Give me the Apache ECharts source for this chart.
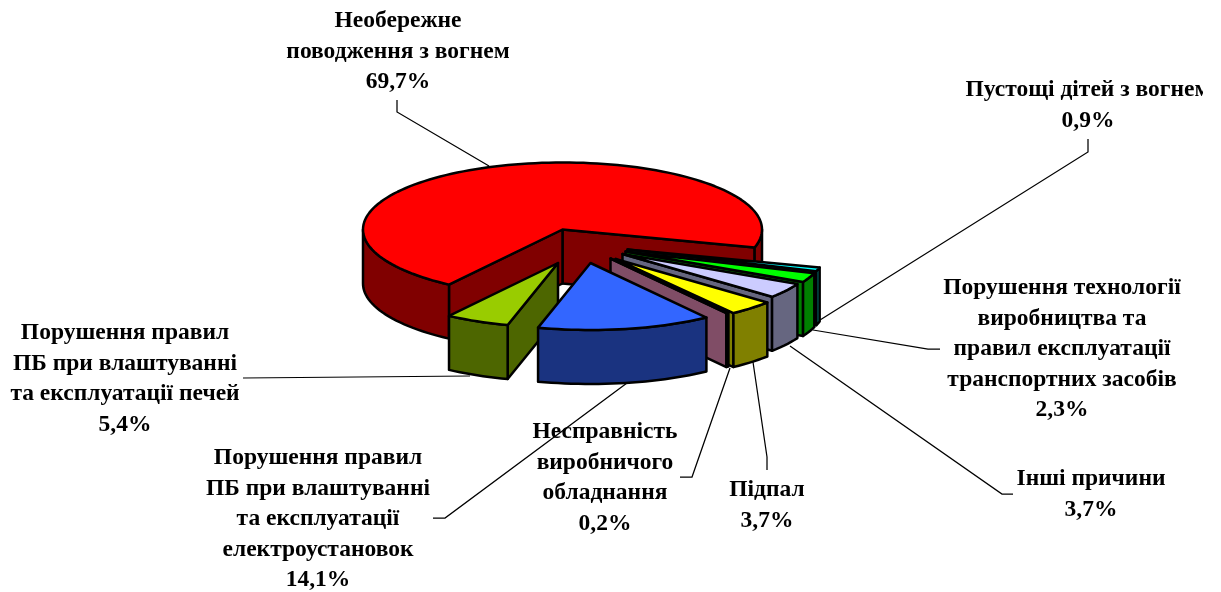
<!DOCTYPE html>
<html><head><meta charset="utf-8">
<style>html,body{margin:0;padding:0;background:#fff}#c{width:1221px;height:592px}</style>
<script src="https://cdn.jsdelivr.net/npm/echarts@6/dist/echarts.min.js"></script>
</head><body><div id="c"></div>
<script>
// ---- data, counter-clockwise from the right-hand edge of the big slice
const labels = [
  ['Необережне','поводження з вогнем'],
  ['Порушення правил','ПБ при влаштуванні','та експлуатації печей'],
  ['Порушення правил','ПБ при влаштуванні','та експлуатації','електроустановок'],
  ['Несправність','виробничого','обладнання'],
  ['Підпал'],
  ['Інші причини'],
  ['Порушення технології','виробництва та','правил експлуатації','транспортних засобів'],
  ['Пустощі дітей з вогнем']
];
const shares = [69.7, 5.4, 14.1, 0.2, 3.7, 3.7, 2.3, 0.9];

// ---- styles and layout
const topColors  = ['#ff0000','#99cc00','#3366ff','#993366','#ffff00','#ccccff','#00ff00','#00ffff'];
const wallColors = ['#800000','#4d6600','#1a3380','#804d66','#808000','#666680','#008000','#008080'];
const drawOrder = [0,7,6,5,4,3,1,2];
const centre = [562.5, 229.5], rx = 199.5, ry = 67, depth = 54, firstAngle = -15.6;
const explode = [[0,0],[-4.5,33.5],[28,33.5],[48,29],[53,29.5],[60,24.5],[63,22],[65,20]];
const radiusScale = [1,0.96,1,1,1,0.985,1,1];
const labelPos = [[398,21],[125,333],[318,458],[605,432],[767,490],[1091,479],[1062,288],[1088,90]];
const leaders = [
  [[397,100],[397,112],[489,166]],
  [[243,378],[470,376]],
  [[433,518],[445,518],[627,383]],
  [[680,477],[692,477],[730,368]],
  [[767,470],[767,457],[753,362]],
  [[1013,494],[1002,494],[790,346]],
  [[940,349],[928,349],[813,330]],
  [[1088,139],[1088,152],[820,320]]
];

const total = shares.reduce((a,b)=>a+b,0);
const starts = []; shares.reduce((acc,v,i)=>{starts[i]=acc; return acc+v/total*360;}, firstAngle);
const rad = d => d*Math.PI/180;
const percent = v => v.toFixed(1).replace('.',',') + '%';

function rim(o, deg, s){ return [o[0]+s*rx*Math.cos(rad(deg)), o[1]-s*ry*Math.sin(rad(deg))]; }
function arcPts(o, a, b, s){ const n=Math.max(2,Math.ceil(Math.abs(b-a)/2)), p=[];
  for(let i=0;i<=n;i++) p.push(rim(o,a+(b-a)*i/n,s)); return p; }
const edge = {stroke:'#000', lineWidth:2.5, lineJoin:'round'};
function poly(pts, fill){ return {type:'polygon', shape:{points:pts}, style:Object.assign({fill:fill},edge)}; }
function wall(pts, fill){ const down=pts.slice().reverse().map(p=>[p[0],p[1]+depth]); return poly(pts.concat(down), fill); }

function renderSlice(params, api){
  const i = api.value(0);
  const a = starts[i], b = a + api.value(1)/total*360, s = radiusScale[i];
  const o = [centre[0]+explode[i][0], centre[1]+explode[i][1]];
  const kids = [];
  // side walls that face the viewer
  if (Math.sin(rad(a-90))<0) kids.push(wall([o,rim(o,a,s)], wallColors[i]));
  if (Math.sin(rad(b+90))<0) kids.push(wall([o,rim(o,b,s)], wallColors[i]));
  // outer wall: only the front half of the rim
  for (let k=-1;k<=1;k++){
    const lo=Math.max(a,180+360*k), hi=Math.min(b,360+360*k);
    if (hi>lo) kids.push(wall(arcPts(o,lo,hi,s), wallColors[i]));
  }
  kids.push(poly([o].concat(arcPts(o,a,b,s)), topColors[i]));
  return {type:'group', children:kids};
}

const chart = echarts.init(document.getElementById('c'));
chart.setOption({
  animation:false,
  backgroundColor:'#ffffff',
  series:[
    {type:'custom', coordinateSystem:'none', silent:true, z:1,
     data:leaders.map((l,i)=>[i]),
     renderItem:(p,api)=>({type:'polyline', shape:{points:leaders[api.value(0)]}, style:{stroke:'#000',lineWidth:1.25,fill:null}})},
    {type:'custom', coordinateSystem:'none', silent:true, z:2,
     data:drawOrder.map(i=>[i,shares[i]]),
     renderItem:renderSlice},
    {type:'custom', coordinateSystem:'none', silent:true, z:3,
     data:labels.map((l,i)=>[i]),
     renderItem:(p,api)=>{const i=api.value(0);
       return {type:'text', x:labelPos[i][0], y:labelPos[i][1]-15.25,
         style:{text:labels[i].concat(percent(shares[i])).join('\n'), fill:'#000',
           font:'bold 23.5px "Liberation Serif"', lineHeight:30.5, align:'center', verticalAlign:'top'}};}}
  ],
  graphic:[{type:'rect', z:100, shape:{x:1203,y:0,width:18,height:592}, style:{fill:'#fff'}, silent:true}]
});
</script></body></html>
